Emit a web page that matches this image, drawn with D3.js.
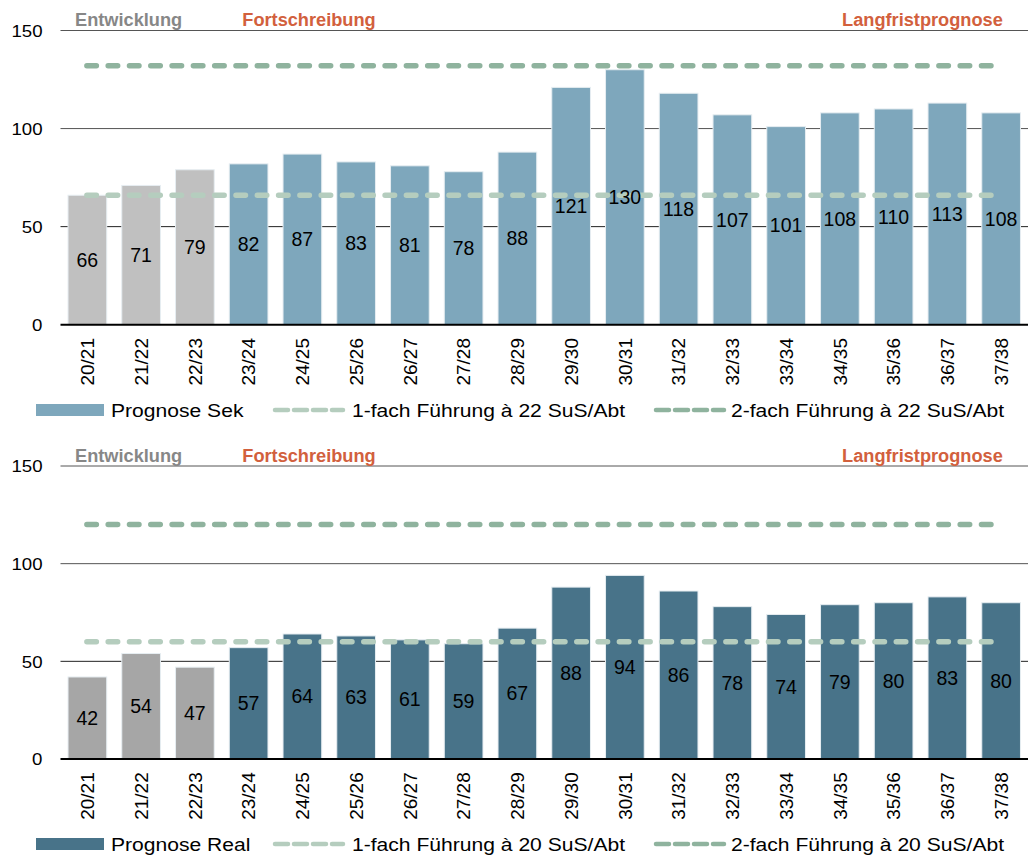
<!doctype html>
<html>
<head>
<meta charset="utf-8">
<style>
    body { margin: 0; background: #fff; }
    svg { display: block; font-family: "Liberation Sans", Arial, sans-serif; }
</style>
<script src="https://cdn.jsdelivr.net/npm/d3@7"></script>
</head>
<body>
<svg id="chart" width="1031" height="855"></svg>
<script>

    // school years on the x axis
    var categories = ["20/21", "21/22", "22/23", "23/24", "24/25", "25/26", "26/27", "27/28", "28/29",
                      "29/30", "30/31", "31/32", "32/33", "33/34", "34/35", "35/36", "36/37", "37/38"];
    // first three years are the past development (grey bars)
    var historyYears = ["20/21", "21/22", "22/23"];

    var sekValues = [66, 71, 79, 82, 87, 83, 81, 78, 88, 121, 130, 118, 107, 101, 108, 110, 113, 108];
    var realValues = [42, 54, 47, 57, 64, 63, 61, 59, 67, 88, 94, 86, 78, 74, 79, 80, 83, 80];

    var sekThresholds = [66, 132];   // 1-fach / 2-fach at 22 SuS/Abt
    var realThresholds = [60, 120];  // 1-fach / 2-fach at 20 SuS/Abt

    var yTicks = [0, 50, 100, 150];
    var phaseLabels = ["Entwicklung", "Fortschreibung", "Langfristprognose"];

    var svg = d3.select("#chart");
    var left = 60.5, right = 1028;

    var x = d3.scaleBand()
        .domain(categories)
        .range([left, right])
        .paddingInner(0.28)
        .paddingOuter(0.14);

    var panels = [
        { values: sekValues, thresholds: sekThresholds, range: [324.7, 30.5],
          barColor: "#7ea7bc", histColor: "#c0c0c0", headerY: 25.5, legendY: 410,
          legend: ["Prognose Sek", "1-fach Führung à 22 SuS/Abt", "2-fach Führung à 22 SuS/Abt"] },
        { values: realValues, thresholds: realThresholds, range: [759, 466],
          barColor: "#487389", histColor: "#a6a6a6", headerY: 462, legendY: 844,
          legend: ["Prognose Real", "1-fach Führung à 20 SuS/Abt", "2-fach Führung à 20 SuS/Abt"] }
    ];

    var singleColor = "#b5cdbe", doubleColor = "#8fb39e";

    panels.forEach(drawPanel);

    function stretched(sel, xPos, yPos, k) {
        sel.attr("transform", "translate(" + xPos + "," + yPos + ") scale(" + k + ",1)");
    }

    function drawPanel(p) {
        var y = d3.scaleLinear().domain([0, 150]).range(p.range);
        var data = categories.map(function(c, i) { return { cat: c, value: p.values[i] }; });
        var g = svg.append("g");

        // gridlines
        g.selectAll(".grid")
         .data(yTicks.slice(1))
         .enter().append("line")
         .attr("x1", left).attr("x2", right)
         .attr("y1", function(d) { return y(d); })
         .attr("y2", function(d) { return y(d); })
         .attr("stroke", function(d) { return d == 50 ? "#222" : "#555"; })
         .attr("stroke-width", 1);

        // y axis labels
        var yAxis = g.append("g")
         .attr("transform", "translate(" + left + ",0)")
         .call(d3.axisLeft(y).tickValues(yTicks).tickSize(0));
        yAxis.select(".domain").remove();
        yAxis.selectAll("text")
         .attr("x", 0)
         .attr("dy", "0.35em")
         .attr("font-size", "16.5px")
         .attr("font-family", "Liberation Sans, Arial, sans-serif")
         .attr("fill", "#000")
         .attr("transform", "translate(-18,0) scale(1.13,1)");

        // bars
        g.selectAll(".bar")
         .data(data)
         .enter().append("rect")
         .attr("x", function(d) { return x(d.cat); })
         .attr("y", function(d) { return y(d.value); })
         .attr("width", x.bandwidth())
         .attr("height", function(d) { return y(0) - y(d.value); })
         .attr("fill", function(d) { return historyYears.indexOf(d.cat) >= 0 ? p.histColor : p.barColor; })
         .attr("stroke", "#e6edf1")
         .attr("stroke-width", 1);

        // threshold lines
        var x0 = x(categories[0]) + x.bandwidth() / 2,
            x1 = x(categories[categories.length - 1]) + x.bandwidth() / 2;
        var lineColors = [singleColor, doubleColor];
        g.selectAll(".threshold")
         .data(p.thresholds)
         .enter().append("line")
         .attr("x1", x0 - 0.5).attr("x2", x1)
         .attr("y1", function(d) { return y(d); })
         .attr("y2", function(d) { return y(d); })
         .attr("stroke", function(d, i) { return lineColors[i]; })
         .attr("stroke-width", 5.5)
         .attr("stroke-linecap", "round")
         .attr("stroke-dasharray", "9.5,11.8");

        // value labels in the middle of the bars
        g.selectAll(".val")
         .data(data)
         .enter().append("text")
         .attr("x", function(d) { return x(d.cat) + x.bandwidth() / 2; })
         .attr("y", function(d) { return (y(d.value) + y(0)) / 2; })
         .attr("dy", "0.35em")
         .attr("text-anchor", "middle")
         .attr("font-size", "19.5px")
         .attr("fill", "#000")
         .text(function(d) { return d.value; });

        // baseline
        g.append("line")
         .attr("x1", left).attr("x2", right)
         .attr("y1", y(0)).attr("y2", y(0))
         .attr("stroke", "#000")
         .attr("stroke-width", 2);

        // x axis labels, rotated
        var xAxis = g.append("g")
         .attr("transform", "translate(0," + y(0) + ")")
         .call(d3.axisBottom(x).tickSize(0).tickPadding(0));
        xAxis.select(".domain").remove();
        xAxis.selectAll("text")
         .attr("transform", "rotate(-90)")
         .attr("x", -13.3)
         .attr("y", 0)
         .attr("dy", "0.35em")
         .attr("text-anchor", "end")
         .attr("font-size", "19px")
         .attr("font-family", "Liberation Sans, Arial, sans-serif")
         .attr("fill", "#000");

        // phase headers
        var headers = [
            { text: phaseLabels[0], x: x(categories[0]) + 7, anchor: "start", color: "#878787" },
            { text: phaseLabels[1], x: x(categories[3]) + 13, anchor: "start", color: "#d2603d" },
            { text: phaseLabels[2], x: x(categories[17]) + 21, anchor: "end", color: "#d2603d" }
        ];
        headers.forEach(function(h) {
            g.append("text")
             .attr("text-anchor", h.anchor)
             .attr("font-size", "17.5px")
             .attr("font-weight", "bold")
             .attr("fill", h.color)
             .text(h.text)
             .call(stretched, h.x, p.headerY, 1.04);
        });

        // legend
        var ly = p.legendY;
        g.append("rect")
         .attr("x", 36).attr("y", ly - 6)
         .attr("width", 68).attr("height", 12)
         .attr("fill", p.barColor);
        g.append("text")
         .attr("font-size", "18.5px")
         .text(p.legend[0])
         .call(stretched, 111, ly + 6.5, 1.14);

        var legendItems = [
            { x: 275, tx: 352, color: singleColor, label: p.legend[1] },
            { x: 656, tx: 731, color: doubleColor, label: p.legend[2] }
        ];
        legendItems.forEach(function(item) {
            g.append("line")
             .attr("x1", item.x).attr("x2", item.x + 68)
             .attr("y1", ly).attr("y2", ly)
             .attr("stroke", item.color)
             .attr("stroke-width", 4.5)
             .attr("stroke-linecap", "round")
             .attr("stroke-dasharray", "13,6");
            g.append("text")
             .attr("font-size", "18.5px")
             .text(item.label)
             .call(stretched, item.tx, ly + 6.5, 1.14);
        });
    }

</script>
</body>
</html>
